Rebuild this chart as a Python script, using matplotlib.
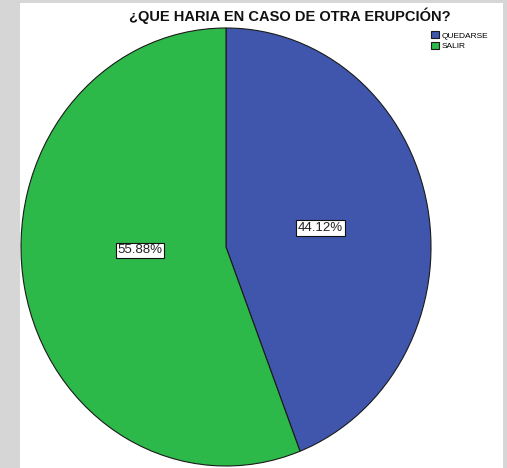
import matplotlib
matplotlib.use("Agg")
from matplotlib import pyplot as plt
from matplotlib.patches import Rectangle

labels = ["QUEDARSE", "SALIR"]
values = [44.12, 55.88]
colors = ["#3F56AC", "#2DB84A"]
title = "¿QUE HARIA EN CASO DE OTRA ERUPCIÓN?"

plt.rcParams["font.family"] = ["Liberation Sans", "DejaVu Sans"]

fig = plt.figure(figsize=(5.07, 4.68), dpi=100)
fig.patch.set_facecolor("#d6d6d6")
# white page area inside the gray frame
fig.add_artist(Rectangle((20 / 507, 0), 483 / 507, 1 - 3 / 468,
                         transform=fig.transFigure, facecolor="white",
                         edgecolor="none", zorder=0))

ax = fig.add_axes([21 / 507, 2 / 468, 410 / 507, 438 / 468])
wedges, texts, autotexts = ax.pie(
    values, colors=colors, startangle=90, counterclock=False,
    autopct="%1.2f%%", pctdistance=0.47,
    wedgeprops=dict(edgecolor="#1a1a1a", linewidth=0.8),
    textprops=dict(fontsize=9.5, color="#222222"))
for t in autotexts:
    t.set_bbox(dict(facecolor="white", edgecolor="#111111", linewidth=0.8, pad=1.2))
# SALIR label sits a bit higher than the wedge middle
autotexts[1].set_position((-0.42, -0.015))
ax.set_aspect("auto")
ax.set_xlim(-1, 1)
ax.set_ylim(-1, 1)

fig.text(290 / 507, 1 - 16 / 468, title, ha="center", va="center",
         fontsize=10.5, fontweight="bold", color="#111111")

fig.legend(wedges, labels, loc="upper left", bbox_to_anchor=(428 / 507, 1 - 28 / 468),
           frameon=False, fontsize=6, handlelength=0.9, handleheight=0.9,
           handletextpad=0.3, labelspacing=0.25, borderaxespad=0)

fig.savefig("out.png", dpi=100, facecolor=fig.get_facecolor())
